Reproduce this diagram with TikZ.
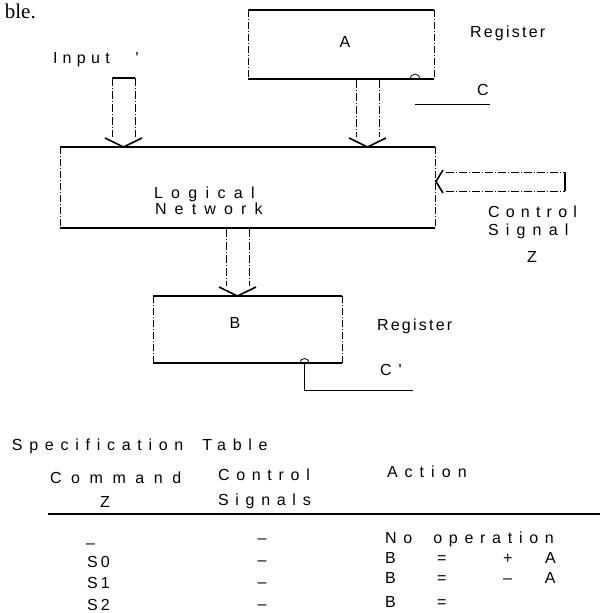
\documentclass[tikz,border=0pt]{standalone}
\usepackage{fontspec}
\newfontfamily\dg[LetterSpace=45]{Liberation Sans}
\newfontfamily\dgplain{Liberation Sans}
\newfontfamily\serifx{Liberation Serif}
\newcommand\hdown[5]{%
  \draw[shaft] (#1,#3) -- (#1,{#4-10});
  \draw[shaft] (#2,#3) -- (#2,{#4-10});
  \draw[head] ({#1-7},{#4-9}) -- ({(#1+#2)/2},#4) -- ({#2+7},{#4-9});
  \ifnum#5=1 \draw[capline] (#1,#3) -- (#2,#3);\fi}
\tikzset{
  edge/.style={line width=1.2pt},
  side/.style={line width=0.5pt, dash pattern=on 7pt off 2pt on 1pt off 2pt},
  shaft/.style={line width=0.6pt, dash pattern=on 8pt off 2pt on 1pt off 2pt},
  head/.style={line width=1.6pt, line join=miter},
  capline/.style={line width=1.3pt},
  wire/.style={line width=1pt},
  boxn/.style={draw=none, inner sep=0, outer sep=0},
  t/.style={font={\fontsize{16}{19}\dg}, anchor=base west, inner sep=0, outer sep=0},
  tc/.style={font={\fontsize{16}{19}\dgplain}, anchor=base, inner sep=0, outer sep=0},
}
\begin{document}
\begin{tikzpicture}[x=1pt,y=-1pt]
\useasboundingbox[fill=white] (0,0) rectangle (601,613);
% fragment of preceding text
\node[font={\fontsize{21}{24}\serifx}, anchor=base east, inner sep=0] (frag) at (36,18) {ble.};
% boxes
\node[boxn, minimum width=186pt, minimum height=69pt] (A) at (341,44.5) {};
\node[boxn, minimum width=375pt, minimum height=81pt] (LN) at (247.5,187.5) {};
\node[boxn, minimum width=189pt, minimum height=67pt] (B) at (247.5,329.5) {};
\foreach \n in {A,LN,B}{
  \draw[edge] (\n.north west) -- (\n.north east);
  \draw[edge] (\n.south west) -- (\n.south east);
  \draw[side] (\n.north west) -- (\n.south west);
  \draw[side] (\n.north east) -- (\n.south east);
}
\node[tc] (Alab) at (345,47) {A};
\node[tc] (Blab) at (235,328) {B};
% clock of A
\draw[line width=0.8pt] (410,79) arc (180:360:5);
\coordinate (cA) at (415,104);
\coordinate (cAe) at (490,104);
\draw[wire] (cA) -- (cAe);
\node[t] (regA) at (470,37) {\addfontfeature{LetterSpace=14}Register};
\node[t] (CA) at (477,95) {C};
% clock of B
\draw[line width=0.8pt] (300,363) arc (180:360:4.5);
\coordinate (cB) at (304.5,363);
\coordinate (cBc) at (304.5,390);
\coordinate (cBe) at (413,390);
\draw[wire] (cB) -- (cBc) -- (cBe);
\node[t] (regB) at (377,330) {\addfontfeature{LetterSpace=14}Register};
\node[t] (CB) at (380,375) {C'};
% logical network text
\node[t] (lg) at (154,198) {\addfontfeature{LetterSpace=52}Logical};
\node[t] (nw) at (155,214) {\addfontfeature{LetterSpace=51}Network};
% input
\node[t] (inp) at (53,63) {\addfontfeature{LetterSpace=33}Input\hspace{26pt}'};
\hdown{112}{135}{78}{147}{1}
\hdown{356}{379}{80}{147}{0}
\hdown{226}{249}{229}{296}{0}
% control arrow
\draw[shaft] (446,172) -- (565,172);
\draw[shaft] (446,191) -- (565,191);
\draw[capline] (565,172) -- (565,191);
\draw[head] (443,170) -- (436,181.5) -- (443,193);
\node[t] (ctl) at (488,217) {\addfontfeature{LetterSpace=39}Control};
\node[t] (sig) at (488,235) {\addfontfeature{LetterSpace=45}Signal};
\node[t] (zz) at (527,262) {\addfontfeature{LetterSpace=0}Z};
% table
\node[t] (spec) at (12,450) {\addfontfeature{LetterSpace=42}Specification\hspace{8pt} Table};
\node[t] (cmd) at (50,483) {\addfontfeature{LetterSpace=60}Command};
\node[t] (cmdz) at (100,507) {\addfontfeature{LetterSpace=0}Z};
\node[t] (cs1) at (218,480) {\addfontfeature{LetterSpace=42}Control};
\node[t] (cs2) at (218,505) {\addfontfeature{LetterSpace=42}Signals};
\node[t] (act) at (387,477) {\addfontfeature{LetterSpace=44}Action};
\coordinate (rl) at (48,514);
\coordinate (rr) at (600,514);
\draw[line width=1.3pt] (rl) -- (rr);
\node[t] (r1) at (385,543) {\addfontfeature{LetterSpace=42}No\hspace{10pt} operation};
\node[t] (r2) at (385,563) {\addfontfeature{LetterSpace=0}\makebox[52pt][l]{B}\makebox[66pt][l]{=}\makebox[42pt][l]{+}A};
\node[t] (r3) at (385,583) {\addfontfeature{LetterSpace=0}\makebox[52pt][l]{B}\makebox[66pt][l]{=}\makebox[42pt][l]{\textendash}A};
\node[t] (r4) at (385,607) {\addfontfeature{LetterSpace=0}\makebox[52pt][l]{B}=};
\node[t] (c0) at (86,548) {\addfontfeature{LetterSpace=0}\textendash};
\node[t] (c1) at (87,567) {\addfontfeature{LetterSpace=20}S0};
\node[t] (c2) at (87,588) {\addfontfeature{LetterSpace=20}S1};
\node[t] (c3) at (87,610) {\addfontfeature{LetterSpace=20}S2};
\foreach \yy/\nm in {541/d1,563/d2,585/d3,607/d4}{
  \node[tc, anchor=center] (\nm) at (262,\yy) {\textendash};
}
\end{tikzpicture}
\end{document}
